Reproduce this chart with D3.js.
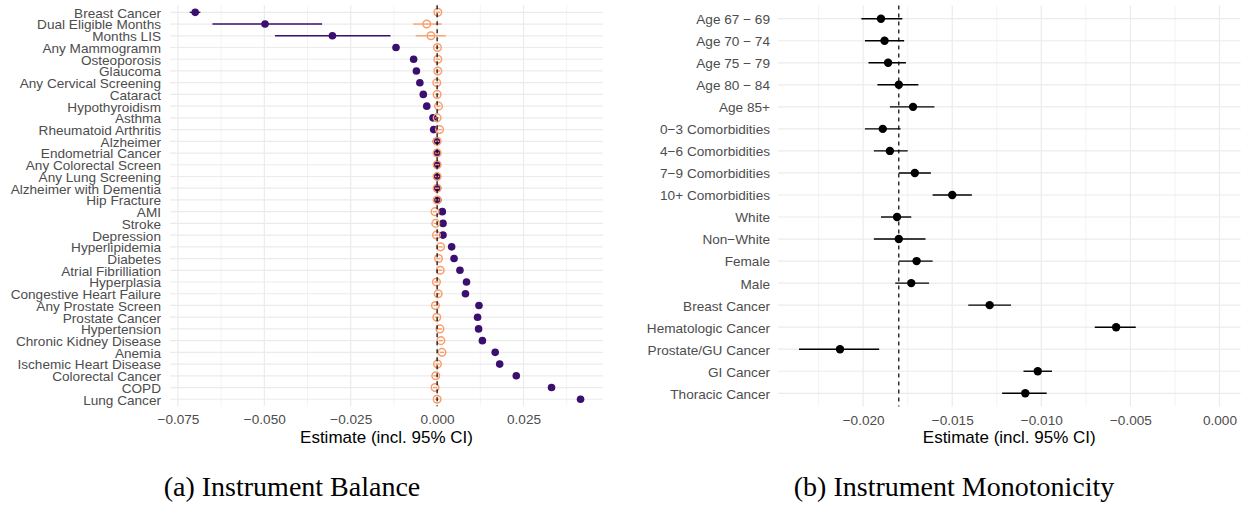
<!DOCTYPE html>
<html><head><meta charset="utf-8">
<script src="https://cdn.jsdelivr.net/npm/d3@7"></script>
<style>
html,body{margin:0;padding:0;background:#fff;}
svg{display:block;}
</style></head>
<body>
<svg id="chart" width="1246" height="506"></svg>
<script>
// ---------- Panel (a): Instrument Balance ----------
const balanceCategories = ["Breast Cancer","Dual Eligible Months","Months LIS","Any Mammogramm","Osteoporosis","Glaucoma","Any Cervical Screening","Cataract","Hypothyroidism","Asthma","Rheumatoid Arthritis","Alzheimer","Endometrial Cancer","Any Colorectal Screen","Any Lung Screening","Alzheimer with Dementia","Hip Fracture","AMI","Stroke","Depression","Hyperlipidemia","Diabetes","Atrial Fibrilliation","Hyperplasia","Congestive Heart Failure","Any Prostate Screen","Prostate Cancer","Hypertension","Chronic Kidney Disease","Anemia","Ischemic Heart Disease","Colorectal Cancer","COPD","Lung Cancer"];
// series 1 (filled purple)
const purpleEst = [-0.0700,-0.0498,-0.0303,-0.0119,-0.0068,-0.0060,-0.0050,-0.0040,-0.0030,-0.0012,-0.0010,-0.0002,0.0000,0.0000,0.0000,0.0001,0.0002,0.0015,0.0017,0.0017,0.0042,0.0049,0.0066,0.0085,0.0082,0.0121,0.0117,0.0120,0.0131,0.0168,0.0181,0.0229,0.0331,0.0415];
const purpleLo  = [-0.0716,-0.0650,-0.0469,-0.0126,-0.0074,-0.0066,-0.0057,-0.0046,-0.0036,-0.0017,-0.0015,-0.0006,-0.0003,-0.0003,-0.0003,-0.0002,-0.0002,0.0010,0.0012,0.0012,0.0037,0.0044,0.0061,0.0080,0.0077,0.0116,0.0112,0.0115,0.0126,0.0163,0.0176,0.0223,0.0324,0.0407];
const purpleHi  = [-0.0685,-0.0333,-0.0135,-0.0112,-0.0062,-0.0054,-0.0043,-0.0034,-0.0024,-0.0007,-0.0005,0.0002,0.0003,0.0003,0.0003,0.0004,0.0006,0.0020,0.0022,0.0022,0.0047,0.0054,0.0071,0.0090,0.0087,0.0126,0.0122,0.0125,0.0136,0.0173,0.0186,0.0235,0.0338,0.0423];
// series 2 (hollow orange)
const orangeEst = [0.0002,-0.0030,-0.0018,0.0001,0.0002,0.0002,-0.0001,0.0000,0.0004,0.0000,0.0007,0.0000,0.0000,0.0000,0.0000,0.0000,0.0000,-0.0006,-0.0004,-0.0002,0.0010,0.0004,0.0009,-0.0002,0.0003,-0.0005,-0.0001,0.0008,0.0011,0.0014,0.0001,-0.0004,-0.0006,0.0000];
const orangeLo  = [-0.0004,-0.0069,-0.0062,-0.0005,-0.0004,-0.0004,-0.0007,-0.0006,-0.0002,-0.0006,0.0001,-0.0006,-0.0006,-0.0006,-0.0006,-0.0006,-0.0006,-0.0012,-0.0010,-0.0008,0.0004,-0.0002,0.0003,-0.0008,-0.0003,-0.0011,-0.0007,0.0002,0.0005,0.0008,-0.0005,-0.0010,-0.0012,-0.0006];
const orangeHi  = [0.0008,0.0013,0.0025,0.0007,0.0008,0.0008,0.0005,0.0006,0.0010,0.0006,0.0013,0.0006,0.0006,0.0006,0.0006,0.0006,0.0006,0.0000,0.0002,0.0004,0.0016,0.0010,0.0015,0.0004,0.0009,0.0001,0.0005,0.0014,0.0017,0.0020,0.0007,0.0002,0.0000,0.0006];
const balanceTicks = [-0.075,-0.050,-0.025,0.000,0.025];
const balanceMinor = [-0.0625,-0.0375,-0.0125,0.0125,0.0375];
const balanceRef = 0;

// ---------- Panel (b): Instrument Monotonicity ----------
const monoCategories = ["Age 67 \u2212 69","Age 70 \u2212 74","Age 75 \u2212 79","Age 80 \u2212 84","Age 85+","0\u22123 Comorbidities","4\u22126 Comorbidities","7\u22129 Comorbidities","10+ Comorbidities","White","Non\u2212White","Female","Male","Breast Cancer","Hematologic Cancer","Prostate/GU Cancer","GI Cancer","Thoracic Cancer"];
const monoEst = [-0.0190,-0.0188,-0.0186,-0.0180,-0.0172,-0.0189,-0.0185,-0.0171,-0.0150,-0.0181,-0.0180,-0.0170,-0.0173,-0.0129,-0.0058,-0.0213,-0.0102,-0.0109];
const monoLo  = [-0.0201,-0.0199,-0.0197,-0.0192,-0.0185,-0.0199,-0.0194,-0.0180,-0.0161,-0.0190,-0.0194,-0.0180,-0.0182,-0.0141,-0.0070,-0.0236,-0.0110,-0.0122];
const monoHi  = [-0.0178,-0.0177,-0.0176,-0.0169,-0.0160,-0.0179,-0.0175,-0.0162,-0.0139,-0.0173,-0.0165,-0.0161,-0.0163,-0.0117,-0.0047,-0.0191,-0.0094,-0.0097];
const monoTicks = [-0.020,-0.015,-0.010,-0.005,0.000];
const monoMinor = [-0.0225,-0.0175,-0.0125,-0.0075,-0.0025];
const monoRef = -0.0180;

const captions = ["(a) Instrument Balance","(b) Instrument Monotonicity"];

const PURPLE = "#3B0F70", ORANGE = "#FB9E6C", TEXT = "#4D4D4D", GRID = "#EBEBEB";
const SANS = "'Liberation Sans', Arial, sans-serif";
const SERIF = "'Liberation Serif', 'DejaVu Serif', serif";
const svg = d3.select("#chart");

function expandDomain(vals){
  const [a,b] = d3.extent(vals);
  const pad = (b-a)*0.05;
  return [a-pad, b+pad];
}

function panel(opt){
  const g = svg.append("g");
  const x = d3.scaleLinear().domain(opt.domain).range([opt.left, opt.right]);
  const y = d3.scalePoint().domain(opt.categories).range([opt.top, opt.bottom]).padding(0.6);

  // grid
  g.append("g").selectAll("line").data(opt.minor).join("line")
    .attr("x1", d=>x(d)).attr("x2", d=>x(d)).attr("y1", opt.top).attr("y2", opt.bottom)
    .attr("stroke", GRID).attr("stroke-width", 0.6);
  g.append("g").selectAll("line").data(opt.ticks).join("line")
    .attr("x1", d=>x(d)).attr("x2", d=>x(d)).attr("y1", opt.top).attr("y2", opt.bottom)
    .attr("stroke", GRID).attr("stroke-width", 1.2);
  g.append("g").selectAll("line").data(opt.categories).join("line")
    .attr("x1", opt.left).attr("x2", opt.right).attr("y1", d=>y(d)).attr("y2", d=>y(d))
    .attr("stroke", GRID).attr("stroke-width", 1.2);

  // axes
  const ya = g.append("g").attr("transform", `translate(${opt.left},0)`)
    .call(d3.axisLeft(y).tickSize(0).tickPadding(opt.labelPad));
  ya.select(".domain").remove();
  ya.selectAll("text").attr("fill", TEXT).style("font-size", "13.6px")
    .style("font-family", SANS).attr("dy", "0.36em");

  const xa = g.append("g").attr("transform", `translate(0,${opt.bottom})`)
    .call(d3.axisBottom(x).tickValues(opt.ticks).tickSize(0).tickFormat(d3.format(".3f")));
  xa.select(".domain").remove();
  xa.selectAll("text").attr("fill", TEXT).style("font-size", "13.6px")
    .style("font-family", SANS)
    .attr("y", opt.tickY - opt.bottom).attr("dy", "0.36em");

  g.append("text").attr("x", (opt.left+opt.right)/2).attr("y", 437).attr("dy","0.36em")
    .attr("text-anchor","middle").style("font-size", "17px").style("font-family", SANS).attr("fill","#000")
    .text("Estimate (incl. 95% CI)");

  // series
  opt.series.forEach(s=>{
    const data = opt.categories.map((c,i)=>({c, est:s.est[i], lo:s.lo[i], hi:s.hi[i]}));
    g.append("g").selectAll("line").data(data).join("line")
      .attr("x1", d=>x(d.lo)).attr("x2", d=>x(d.hi)).attr("y1", d=>y(d.c)).attr("y2", d=>y(d.c))
      .attr("stroke", s.color).attr("stroke-width", 1.4);
    g.append("g").selectAll("circle").data(data).join("circle")
      .attr("cx", d=>x(d.est)).attr("cy", d=>y(d.c)).attr("r", s.r)
      .attr("fill", s.hollow ? "none" : s.color)
      .attr("stroke", s.hollow ? s.color : "none").attr("stroke-width", s.hollow ? 1.5 : 0);
  });

  // reference line
  g.append("line").attr("x1", x(opt.ref)).attr("x2", x(opt.ref))
    .attr("y1", opt.top).attr("y2", opt.bottom)
    .attr("stroke", "#000").attr("stroke-width", 1.2).attr("stroke-dasharray", "4,4");
}

panel({
  categories: balanceCategories,
  domain: expandDomain(purpleLo.concat(purpleHi, orangeLo, orangeHi)),
  left: 170, right: 603, top: 5.3, bottom: 406.3, labelPad: 9, tickY: 419,
  ticks: balanceTicks, minor: balanceMinor, ref: balanceRef,
  series: [
    {est: purpleEst, lo: purpleLo, hi: purpleHi, color: PURPLE, r: 3.8, hollow: false},
    {est: orangeEst, lo: orangeLo, hi: orangeHi, color: ORANGE, r: 3.8, hollow: true}
  ]
});

panel({
  categories: monoCategories,
  domain: expandDomain(monoLo.concat(monoHi, [0])),
  left: 778, right: 1240.5, top: 5.5, bottom: 406.5, labelPad: 8, tickY: 420,
  ticks: monoTicks, minor: monoMinor, ref: monoRef,
  series: [
    {est: monoEst, lo: monoLo, hi: monoHi, color: "#000", r: 4.2, hollow: false}
  ]
});

svg.selectAll("text.cap").data(captions).join("text").attr("class","cap")
  .attr("x", (d,i)=> i===0 ? 292 : 954).attr("y", 496)
  .attr("text-anchor","middle").style("font-size", "28px")
  .style("font-family", SERIF).attr("fill","#000")
  .text(d=>d);
</script>
</body></html>
